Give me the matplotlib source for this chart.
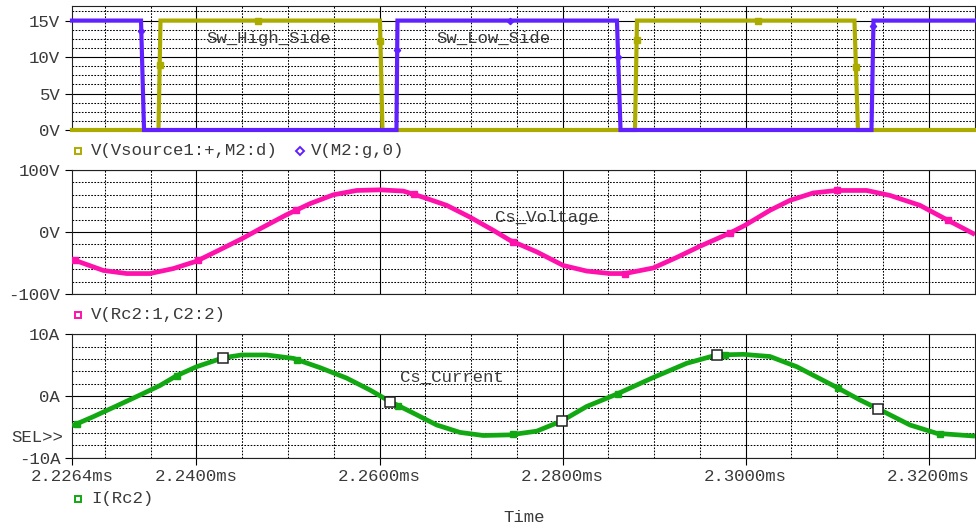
import numpy as np
import matplotlib
matplotlib.use("Agg")
import matplotlib.pyplot as plt
from matplotlib.lines import Line2D

plt.rcParams['font.family'] = ['Liberation Mono', 'DejaVu Sans Mono']

# ---------------- data ----------------
t_start, t_end = 2.2264, 2.32506
x_ticks = [2.2264, 2.2400, 2.2600, 2.2800, 2.3000, 2.3200]
x_tick_labels = ["2.2264ms", "2.2400ms", "2.2600ms", "2.2800ms", "2.3000ms", "2.3200ms"]
x_minor = [2.230, 2.235, 2.245, 2.250, 2.255, 2.265, 2.270, 2.275,
           2.285, 2.290, 2.295, 2.305, 2.310, 2.315]

# V(Vsource1:+,M2:d)  (high side switch)
hs_t = [2.2264, 2.23585, 2.23607, 2.26005, 2.26032, 2.28791, 2.28813, 2.31189, 2.31227, 2.32506]
hs_v = [0, 0, 15, 15, 0, 0, 15, 15, 0, 0]
hs_mk_t = [2.23598, 2.24672, 2.26010, 2.28809, 2.30135, 2.31205]

# V(M2:g,0)  (low side switch)
ls_t = [2.2264, 2.23394, 2.23427, 2.26185, 2.26196, 2.28594, 2.28633, 2.31375, 2.31397, 2.32506]
ls_v = [15, 15, 0, 0, 15, 15, 0, 0, 15, 15]
ls_mk_t = [2.23397, 2.26193, 2.27425, 2.28607, 2.31396]

# V(Rc2:1,C2:2)  (Cs voltage)
cv_t = [2.2264, 2.22982, 2.23238, 2.23492, 2.23747, 2.24002, 2.24257, 2.24494, 2.2473,
        2.24986, 2.2524, 2.25495, 2.2575, 2.26005, 2.2626, 2.26478, 2.26734, 2.26988,
        2.27243, 2.27425, 2.27717, 2.28008, 2.28263, 2.28518, 2.28682, 2.28991, 2.29247,
        2.29501, 2.29829, 2.29993, 2.30266, 2.30484, 2.30739, 2.30995, 2.31322, 2.31577,
        2.31905, 2.32196, 2.32506]
cv_v = [-44, -62, -67, -67, -59, -47, -28.5, -11, 8, 28, 45.7, 60, 67, 68, 66, 56, 43, 24,
        2.7, -13.4, -32, -54, -63, -67, -67, -58, -41, -23, -1.6, 10.8, 35, 51, 63, 67, 67,
        59, 43, 20, -4]
cv_mk_t = [2.22673, 2.24017, 2.25087, 2.26376, 2.27458, 2.28682, 2.29829, 2.30998, 2.3221]

# I(Rc2)  (Cs current)
ci_t = [2.2264, 2.22873, 2.23128, 2.23383, 2.23601, 2.23784, 2.24002, 2.24293, 2.24494,
        2.24767, 2.25058, 2.25349, 2.25641, 2.25896, 2.26114, 2.26333, 2.26625, 2.26879,
        2.27134, 2.27425, 2.27717, 2.2799, 2.28263, 2.28591, 2.28991, 2.29356, 2.29684,
        2.29975, 2.30266, 2.30558, 2.30995, 2.3125, 2.3145, 2.31796, 2.32088, 2.32506]
ci_v = [-4.85, -3.35, -1.6, 0.16, 1.7, 3.3, 4.75, 6.2, 6.65, 6.65, 6.1, 4.6, 2.9, 0.97,
        -0.9, -2.5, -4.7, -5.9, -6.4, -6.3, -5.7, -4.05, -1.7, 0.3, 3.0, 5.3, 6.65, 6.75,
        6.4, 4.75, 1.4, -0.65, -2.1, -4.7, -6.05, -6.5]
ci_mk_t = [2.22691, 2.23784, 2.25095, 2.26202, 2.27458, 2.28605, 2.29774, 2.31009, 2.32123]
ci_cursor_t = [2.24293, 2.26114, 2.2799, 2.29684, 2.3145]

top_yticks = [0, 5, 10, 15]
top_ylabels = ["0V", "5V", "10V", "15V"]
mid_yticks = [-100, 0, 100]
mid_ylabels = ["-100V", "0V", "100V"]
bot_yticks = [-10, 0, 10]
bot_ylabels = ["-10A", "0A", "10A"]

OLIVE = '#acac00'
PURPLE = '#6020ff'
PINK = '#ff12ac'
GREEN = '#12a812'
TXT = '#3a3a3a'
FS = 12.5

# ---------------- figure ----------------
W, H = 976, 530
fig = plt.figure(figsize=(W / 100, H / 100), dpi=100)


def fx(px):
    return px / W


def fy(py):
    return 1 - py / H


L, R = 72, 975
ax1 = fig.add_axes([fx(L), fy(130), (R - L) / W, 124 / H])
ax2 = fig.add_axes([fx(L), fy(294), (R - L) / W, 124 / H])
ax3 = fig.add_axes([fx(L), fy(457.7), (R - L) / W, 123.4 / H])

DOT = (0, (1.6, 1.4))


def style(ax, ylim, yticks, ylabels, yminor_step, show_x):
    ax.set_xlim(t_start, t_end)
    ax.set_ylim(*ylim)
    ym = np.arange(ylim[0], ylim[1] + 1e-9, yminor_step)
    for v in ym:
        if all(abs(v - m) > 1e-6 for m in yticks) and ylim[0] < v < ylim[1]:
            ax.axhline(v, color='k', lw=0.75, ls=DOT, zorder=1)
    for v in yticks:
        ax.axhline(v, color='k', lw=0.8, zorder=1.1)
    for t in x_minor:
        ax.axvline(t, color='k', lw=0.75, ls=DOT, zorder=1)
    for t in x_ticks[1:]:
        ax.axvline(t, color='k', lw=0.8, zorder=1.1)
    ax.set_yticks(yticks)
    ax.set_yticklabels(ylabels)
    ax.tick_params(axis='y', direction='out', length=5, width=0.8, pad=3.5,
                   labelsize=FS, labelcolor=TXT, color='k')
    ax.set_xticks(x_ticks)
    if show_x:
        ax.set_xticklabels(x_tick_labels)
        ax.tick_params(axis='x', direction='out', length=5, width=0.8, pad=3,
                       labelsize=FS, labelcolor=TXT, color='k')
    else:
        ax.tick_params(axis='x', length=0, labelbottom=False)
    for s in ax.spines.values():
        s.set_color('#222222')
        s.set_linewidth(0.8)


style(ax1, (0, 17), top_yticks, top_ylabels, 1.25, False)
style(ax2, (-100, 100), mid_yticks, mid_ylabels, 20, False)
style(ax3, (-10, 10), bot_yticks, bot_ylabels, 2, True)

# ---- top: switch voltages ----
ax1.plot(hs_t, hs_v, color=OLIVE, lw=3.0, zorder=3, clip_on=False, solid_joinstyle='miter')
ax1.plot(hs_mk_t, np.interp(hs_mk_t, hs_t, hs_v), ls='none', marker='s', ms=4.5,
         color=OLIVE, zorder=4, clip_on=False)
ax1.plot(ls_t, ls_v, color=PURPLE, lw=3.0, zorder=3.5, clip_on=False, solid_joinstyle='miter')
ax1.plot(ls_mk_t, np.interp(ls_mk_t, ls_t, ls_v), ls='none', marker='D', ms=3.2,
         color=PURPLE, zorder=4.5, clip_on=False)
ax1.text(2.24104, 12.5, "Sw_High_Side", fontsize=FS, color=TXT, va='center', ha='left', zorder=5)
ax1.text(2.26624, 12.6, "Sw_Low_Side", fontsize=FS, color=TXT, va='center', ha='left', zorder=5)

# ---- middle: Cs voltage ----
ax2.plot(cv_t, cv_v, color=PINK, lw=3.4, zorder=3, solid_capstyle='butt')
ax2.plot(cv_mk_t, np.interp(cv_mk_t, cv_t, cv_v), ls='none', marker='s', ms=5,
         color=PINK, zorder=4)
ax2.text(2.27261, 24, "Cs_Voltage", fontsize=FS, color=TXT, va='center', ha='left', zorder=5)

# ---- bottom: Cs current ----
ax3.plot(ci_t, ci_v, color=GREEN, lw=3.4, zorder=3, solid_capstyle='butt')
ax3.plot(ci_mk_t, np.interp(ci_mk_t, ci_t, ci_v), ls='none', marker='s', ms=5,
         color=GREEN, zorder=4)
ax3.plot(ci_cursor_t, np.interp(ci_cursor_t, ci_t, ci_v), ls='none', marker='s', ms=7.5,
         mfc='white', mec='#222222', mew=1.1, zorder=5)
ax3.text(2.26224, 3.1, "Cs_Current", fontsize=FS, color=TXT, va='center', ha='left', zorder=5)

# ---- legends / labels ----
def legend_item(px, py, marker, color, label, tx, ms=4.2):
    fig.add_artist(Line2D([fx(px)], [fy(py)], transform=fig.transFigure, marker=marker,
                          ms=ms, mfc='white', mec=color, mew=1.4, ls='none'))
    fig.text(fx(tx), fy(py), label, fontsize=FS, color=TXT, ha='left', va='center')


legend_item(78, 150.5, 's', OLIVE, "V(Vsource1:+,M2:d)", 91)
legend_item(300, 150.5, 'D', PURPLE, "V(M2:g,0)", 311, ms=3.6)
legend_item(78, 315, 's', PINK, "V(Rc2:1,C2:2)", 91)
legend_item(78, 498.5, 's', GREEN, "I(Rc2)", 91)

fig.text(fx(63), fy(438), "SEL>>", fontsize=FS, color=TXT, ha='right', va='center')
fig.text(fx(524), fy(518), "Time", fontsize=FS, color=TXT, ha='center', va='center')

fig.savefig("out.png", dpi=100)
